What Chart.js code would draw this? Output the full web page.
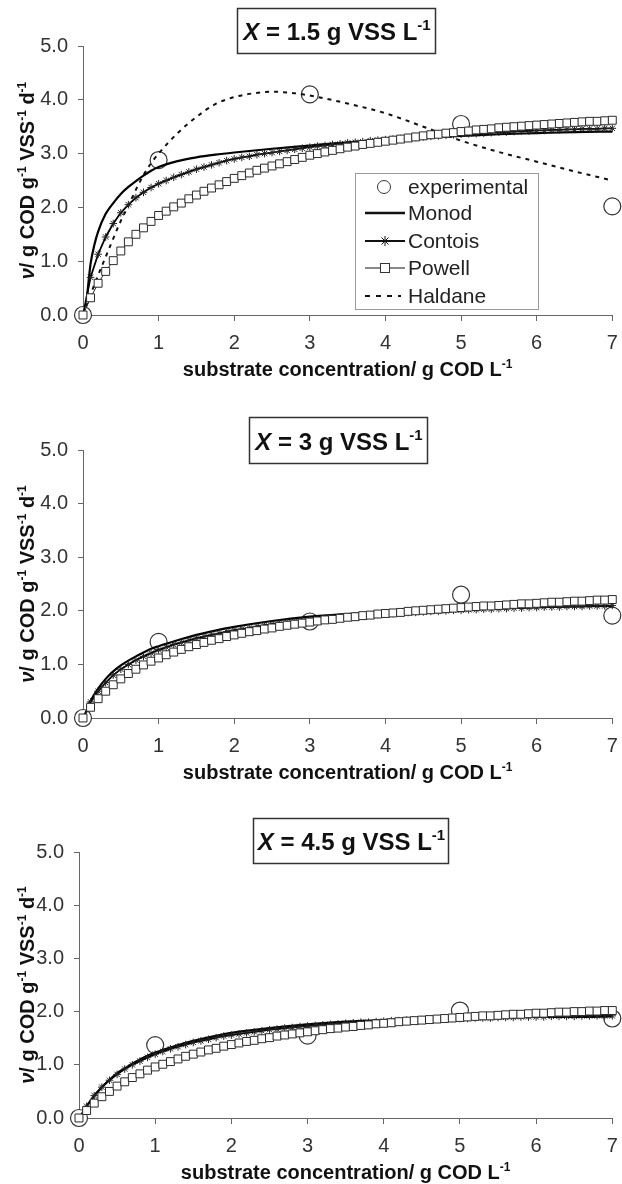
<!DOCTYPE html>
<html>
<head>
<meta charset="utf-8">
<script src="https://cdn.jsdelivr.net/npm/chart.js@4.4.1/dist/chart.umd.min.js"></script>
<style>
  html, body { margin: 0; padding: 0; background: #fff; }
  #wrap { position: relative; width: 622px; height: 1184px; }
  canvas { position: absolute; left: 0; }
</style>
</head>
<body>
<div id="wrap">
  <canvas id="p1" width="622" height="400" style="top:0px"></canvas>
  <canvas id="p2" width="622" height="400" style="top:400px"></canvas>
  <canvas id="p3" width="622" height="384" style="top:800px"></canvas>
</div>
<script>
// substrate concentration (g COD/L) where the experiments were run
const expX = [0, 1, 3, 5, 7];
const exp15 = [0, 2.88, 4.1, 3.55, 2.02];
const exp30 = [0, 1.42, 1.8, 2.3, 1.91];
const exp45 = [0, 1.37, 1.55, 2.02, 1.87];

// x grid of the marked model curves (Contois, Powell)
const fineX = [0,0.1,0.2,0.3,0.4,0.5,0.6,0.7,0.8,0.9,1,1.1,1.2,1.3,1.4,1.5,1.6,1.7,1.8,1.9,
  2,2.1,2.2,2.3,2.4,2.5,2.6,2.7,2.8,2.9,3,3.1,3.2,3.3,3.4,3.5,3.6,3.7,3.8,3.9,
  4,4.1,4.2,4.3,4.4,4.5,4.6,4.7,4.8,4.9,5,5.1,5.2,5.3,5.4,5.5,5.6,5.7,5.8,5.9,
  6,6.1,6.2,6.3,6.4,6.5,6.6,6.7,6.8,6.9,7];

const contois15 = [0,0.7,1.13,1.45,1.7,1.9,2.05,2.18,2.28,2.37,
  2.44,2.5,2.56,2.61,2.66,2.71,2.75,2.79,2.83,2.87,
  2.9,2.93,2.95,2.98,3.0,3.02,3.04,3.06,3.08,3.1,
  3.12,3.14,3.15,3.17,3.18,3.2,3.21,3.22,3.24,3.25,
  3.26,3.27,3.28,3.29,3.3,3.31,3.32,3.33,3.34,3.35,
  3.36,3.37,3.37,3.38,3.39,3.4,3.4,3.41,3.42,3.42,
  3.43,3.43,3.44,3.44,3.45,3.45,3.46,3.46,3.46,3.47,3.47];
const powell15 = [0,0.32,0.59,0.81,1.01,1.19,1.36,1.5,1.62,1.74,
  1.85,1.93,2.01,2.08,2.16,2.23,2.3,2.36,2.42,2.48,
  2.54,2.59,2.64,2.69,2.73,2.77,2.81,2.85,2.89,2.93,
  2.97,3.0,3.03,3.06,3.09,3.12,3.14,3.17,3.19,3.21,
  3.23,3.25,3.27,3.29,3.31,3.33,3.35,3.36,3.38,3.39,
  3.41,3.42,3.44,3.45,3.46,3.48,3.49,3.5,3.51,3.52,
  3.53,3.54,3.55,3.56,3.57,3.58,3.59,3.6,3.6,3.61,3.62];

const contois30 = [0,0.3,0.5,0.66,0.8,0.91,1.0,1.08,1.15,1.21,
  1.27,1.32,1.37,1.41,1.45,1.49,1.52,1.55,1.58,1.61,
  1.64,1.66,1.68,1.71,1.73,1.75,1.77,1.78,1.8,1.81,
  1.83,1.84,1.86,1.87,1.88,1.89,1.9,1.91,1.92,1.93,
  1.94,1.95,1.96,1.97,1.97,1.98,1.99,1.99,2.0,2.01,
  2.01,2.02,2.02,2.03,2.03,2.04,2.04,2.05,2.05,2.06,
  2.06,2.07,2.07,2.07,2.08,2.08,2.08,2.09,2.09,2.09,2.1];
const powell30 = [0,0.2,0.36,0.5,0.62,0.73,0.83,0.91,0.99,1.06,
  1.12,1.18,1.23,1.28,1.33,1.37,1.41,1.45,1.48,1.52,
  1.55,1.58,1.61,1.63,1.66,1.68,1.71,1.73,1.75,1.77,
  1.79,1.81,1.83,1.84,1.86,1.88,1.89,1.91,1.92,1.94,
  1.95,1.96,1.97,1.99,2.0,2.01,2.02,2.03,2.04,2.05,
  2.06,2.07,2.08,2.09,2.09,2.1,2.11,2.12,2.13,2.13,
  2.14,2.15,2.16,2.16,2.17,2.18,2.18,2.19,2.2,2.2,2.21];

const contois45 = [0,0.22,0.42,0.58,0.71,0.82,0.92,1.0,1.07,1.14,
  1.2,1.25,1.3,1.34,1.38,1.42,1.45,1.48,1.51,1.54,
  1.56,1.58,1.6,1.62,1.64,1.66,1.67,1.69,1.7,1.72,
  1.73,1.74,1.75,1.76,1.77,1.78,1.79,1.8,1.8,1.81,
  1.82,1.83,1.83,1.84,1.84,1.85,1.85,1.86,1.86,1.87,
  1.87,1.87,1.88,1.88,1.88,1.89,1.89,1.89,1.9,1.9,
  1.9,1.9,1.91,1.91,1.91,1.91,1.92,1.92,1.92,1.92,1.92];
const powell45 = [0,0.14,0.28,0.4,0.5,0.6,0.68,0.76,0.83,0.9,
  0.96,1.01,1.06,1.11,1.16,1.2,1.24,1.28,1.31,1.35,
  1.38,1.41,1.44,1.46,1.49,1.51,1.54,1.56,1.58,1.6,
  1.62,1.64,1.66,1.68,1.69,1.71,1.72,1.74,1.75,1.77,
  1.78,1.79,1.81,1.82,1.83,1.84,1.85,1.86,1.87,1.88,
  1.89,1.9,1.91,1.92,1.92,1.93,1.94,1.95,1.95,1.96,
  1.97,1.97,1.98,1.99,1.99,2.0,2.0,2.01,2.01,2.02,2.02];

// Monod curves (plain line)
const monodX = [0.05,0.1,0.15,0.2,0.3,0.4,0.5,0.6,0.7,0.8,0.9,1,1.25,1.5,1.75,2,2.5,3,3.5,4,4.5,5,5.5,6,6.5,7];
const monod15 = [0.3,0.95,1.3,1.55,1.88,2.08,2.25,2.38,2.49,2.59,2.68,2.75,2.86,2.93,2.98,3.02,3.09,3.15,3.21,3.26,3.3,3.33,3.36,3.38,3.4,3.41];
const monod30 = [0.2,0.32,0.44,0.55,0.73,0.87,0.98,1.07,1.15,1.22,1.29,1.34,1.45,1.55,1.63,1.7,1.81,1.89,1.94,1.98,2.01,2.03,2.05,2.07,2.08,2.09];
const monod45 = [0.12,0.22,0.32,0.42,0.58,0.72,0.84,0.93,1.02,1.1,1.17,1.23,1.35,1.45,1.53,1.6,1.69,1.76,1.81,1.84,1.86,1.88,1.89,1.9,1.9,1.91];

// Haldane (only shown for X = 1.5)
const haldaneX = [0,0.1,0.2,0.3,0.4,0.5,0.6,0.7,0.8,0.9,1,1.25,1.5,1.75,2,2.25,2.5,2.75,3,3.5,4,4.5,5,5.5,6,6.5,7];
const haldane15 = [0,0.38,0.74,1.08,1.42,1.75,2.03,2.33,2.6,2.82,3.0,3.38,3.68,3.92,4.05,4.12,4.15,4.13,4.08,3.93,3.75,3.5,3.24,3.03,2.85,2.67,2.5];

const biomass = ['1.5', '3', '4.5'];
const legendNames = ['experimental', 'Monod', 'Contois', 'Powell', 'Haldane'];

const FONT = '"Liberation Sans", Arial, Helvetica, sans-serif';
Chart.defaults.font.family = FONT;

const pts = (xs, ys) => xs.map((x, i) => ({ x: x, y: ys[i] }));

// text with superscripts / italics, centred on (cx, cy)
function drawRich(ctx, parts, cx, cy, size, bold) {
    const fontFor = p => (p.it ? 'italic ' : '') + (bold ? 'bold ' : '') +
        (p.sup ? Math.round(size * 0.62) : size) + 'px ' + FONT;
    let w = 0;
    const widths = parts.map(p => { ctx.font = fontFor(p); const m = ctx.measureText(p.t).width; w += m; return m; });
    let x = cx - w / 2;
    const base = cy + size * 0.36;
    ctx.textAlign = 'left';
    ctx.textBaseline = 'alphabetic';
    parts.forEach((p, i) => {
        ctx.font = fontFor(p);
        ctx.fillText(p.t, x, p.sup ? base - size * 0.42 : base);
        x += widths[i];
    });
}

const xTitle = [{ t: 'substrate concentration/ g COD L' }, { t: '-1', sup: true }];
const yTitle = [{ t: 'ν', it: true }, { t: '/ g COD g' }, { t: '-1', sup: true }, { t: ' VSS' },
    { t: '-1', sup: true }, { t: ' d' }, { t: '-1', sup: true }];

function drawLegend(ctx) {
    const bx = 355, by = 173, bw = 183, bh = 136;
    ctx.save();
    ctx.fillStyle = '#fff';
    ctx.fillRect(bx, by, bw, bh);
    ctx.strokeStyle = '#9a9a9a';
    ctx.lineWidth = 1;
    ctx.strokeRect(bx + 0.5, by + 0.5, bw, bh);
    const rows = [187, 213, 241, 268, 296];
    const x0 = 365, x1 = 405, xc = 385;
    rows.forEach((y, i) => {
        ctx.strokeStyle = '#111';
        ctx.setLineDash([]);
        if (i === 0) {
            ctx.lineWidth = 1;
            ctx.strokeStyle = '#333';
            ctx.beginPath(); ctx.arc(xc - 1, y, 6.5, 0, Math.PI * 2); ctx.stroke();
        } else {
            ctx.lineWidth = i === 1 ? 2.5 : (i === 3 ? 1 : 2);
            if (i === 4) ctx.setLineDash([5, 6]);
            ctx.beginPath(); ctx.moveTo(x0, y); ctx.lineTo(i === 4 ? x1 - 4 : x1, y); ctx.stroke();
            ctx.setLineDash([]);
            if (i === 2) {
                ctx.lineWidth = 1;
                const r = 5;
                ctx.beginPath();
                ctx.moveTo(xc - r, y); ctx.lineTo(xc + r, y);
                ctx.moveTo(xc, y - r); ctx.lineTo(xc, y + r);
                ctx.moveTo(xc - r * 0.7, y - r * 0.7); ctx.lineTo(xc + r * 0.7, y + r * 0.7);
                ctx.moveTo(xc - r * 0.7, y + r * 0.7); ctx.lineTo(xc + r * 0.7, y - r * 0.7);
                ctx.stroke();
            }
            if (i === 3) {
                ctx.fillStyle = '#fff';
                ctx.fillRect(xc - 4.5, y - 4.5, 9, 9);
                ctx.lineWidth = 1;
                ctx.strokeStyle = '#333';
                ctx.strokeRect(xc - 4.5, y - 4.5, 9, 9);
            }
        }
        ctx.fillStyle = '#222';
        ctx.font = '21px ' + FONT;
        ctx.textAlign = 'left';
        ctx.textBaseline = 'middle';
        ctx.fillText(legendNames[i], 408, y + 1);
    });
    ctx.restore();
}

function makePanel(id, cfg) {
    const datasets = [{
        label: 'experimental',
        data: pts(expX, cfg.exp),
        showLine: false,
        pointStyle: 'circle',
        pointRadius: 8.5,
        pointBorderWidth: 1.2,
        borderColor: '#333',
        backgroundColor: '#fff',
        clip: false,
        order: 5
    }];
    if (cfg.haldane) {
        datasets.push({
            label: 'Haldane',
            data: pts(haldaneX, cfg.haldane),
            showLine: true,
            borderColor: '#111',
            borderWidth: 2,
            borderDash: [4, 5],
            pointRadius: 0,
            cubicInterpolationMode: 'monotone',
            clip: false,
            order: 4
        });
    }
    datasets.push({
        label: 'Monod',
        data: pts(monodX, cfg.monod),
        showLine: true,
        borderColor: '#000',
        borderWidth: 2.2,
        pointRadius: 0,
        cubicInterpolationMode: 'monotone',
        clip: false,
        order: 3
    }, {
        label: 'Contois',
        data: pts(fineX, cfg.contois),
        showLine: true,
        borderColor: '#000',
        borderWidth: 1.8,
        pointStyle: 'star',
        pointRadius: 3.8,
        pointBorderWidth: 1,
        pointBorderColor: '#222',
        pointBackgroundColor: '#222',
        clip: false,
        order: 2
    }, {
        label: 'Powell',
        data: pts(fineX, cfg.powell),
        showLine: true,
        borderColor: '#222',
        borderWidth: 1,
        pointStyle: 'rect',
        pointRadius: 5.6,
        pointBorderWidth: 1,
        pointBorderColor: '#2a2a2a',
        pointBackgroundColor: '#fff',
        clip: false,
        order: 1
    });

    const deco = {
        id: 'deco',
        afterDraw(chart) {
            const ctx = chart.ctx;
            const a = chart.chartArea;
            const b = cfg.box;
            ctx.save();
            ctx.fillStyle = '#fff';
            ctx.fillRect(b[0], b[1], b[2], b[3]);
            ctx.strokeStyle = '#333';
            ctx.lineWidth = 1.5;
            ctx.strokeRect(b[0] + 0.5, b[1] + 0.5, b[2], b[3]);
            ctx.fillStyle = '#111';
            drawRich(ctx, [{ t: 'X', it: true }, { t: ' = ' + cfg.label + ' g VSS L' }, { t: '-1', sup: true }],
                b[0] + b[2] / 2 + 1, b[1] + b[3] / 2 + 1, 24, true);
            drawRich(ctx, xTitle, (a.left + a.right) / 2, a.bottom + 54, 20, true);
            ctx.translate(27, (a.top + a.bottom) / 2);
            ctx.rotate(-Math.PI / 2);
            drawRich(ctx, yTitle, 0, 0, 20, true);
            ctx.restore();
            if (cfg.legend) drawLegend(ctx);
        }
    };

    return new Chart(document.getElementById(id), {
        type: 'scatter',
        data: { datasets: datasets },
        options: {
            responsive: false,
            animation: false,
            events: [],
            layout: { padding: { left: 0, right: cfg.right, top: cfg.top, bottom: cfg.bottom } },
            plugins: { legend: { display: false }, tooltip: { enabled: false } },
            scales: {
                x: {
                    type: 'linear',
                    min: 0,
                    max: 7,
                    // fixed axis band; the last label may run to the page edge as in the original
                    afterFit: s => { s.height = 50; s.paddingLeft = 0; s.paddingRight = 0; },
                    border: { display: true, color: '#666', width: 1 },
                    grid: { drawOnChartArea: false, drawTicks: true, tickLength: 6, color: '#666' },
                    ticks: { stepSize: 1, padding: 10, color: '#333', font: { size: 20 } }
                },
                y: {
                    min: 0,
                    max: 5,
                    afterFit: s => { s.width = cfg.left; },
                    border: { display: true, color: '#666', width: 1 },
                    grid: { drawOnChartArea: false, drawTicks: true, tickLength: 5, color: '#666' },
                    ticks: { stepSize: 1, padding: 10, color: '#333', font: { size: 20 },
                        callback: v => v.toFixed(1) }
                }
            }
        },
        plugins: [deco]
    });
}

makePanel('p1', { label: biomass[0], exp: exp15, monod: monod15, contois: contois15, powell: powell15,
    haldane: haldane15, legend: true, box: [237, 8, 198, 45],
    left: 83, right: 8, top: 46, bottom: 35 });
makePanel('p2', { label: biomass[1], exp: exp30, monod: monod30, contois: contois30, powell: powell30,
    box: [249, 17, 178, 46], left: 83, right: 8, top: 50, bottom: 32 });
makePanel('p3', { label: biomass[2], exp: exp45, monod: monod45, contois: contois45, powell: powell45,
    box: [253, 18, 195, 45], left: 79, right: 7, top: 52, bottom: 16 });
</script>
</body>
</html>
